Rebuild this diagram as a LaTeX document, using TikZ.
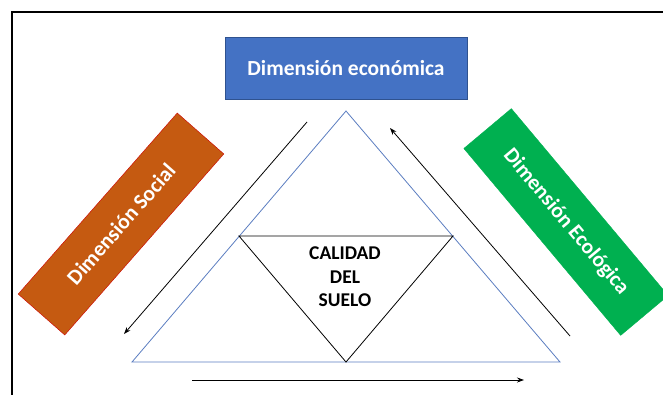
\documentclass[tikz,border=0pt]{standalone}
\usepackage{fontspec}
\setmainfont{Carlito}
\usetikzlibrary{arrows.meta}
\definecolor{econblue}{HTML}{4472C4}
\definecolor{econedge}{HTML}{2F528F}
\definecolor{socorange}{HTML}{C55A11}
\definecolor{ecogreen}{HTML}{00B050}
\definecolor{trisblue}{HTML}{5B7DC0}
\tikzset{
  dimbox/.style={minimum width=242pt, minimum height=62pt, inner sep=0pt,
    text=white, font=\bfseries\fontsize{21.5}{24}\selectfont},
  flow/.style={-{Stealth[length=7pt,width=5pt]}, line width=0.8pt}
}
\begin{document}
\begin{tikzpicture}[x=1pt,y=-1pt]
  \useasboundingbox (0,0) rectangle (663,394);
  \clip (0,0) rectangle (663,394);
  \draw[line width=1.5pt] (12,400) -- (12,12) -- (670,12);

  \node[dimbox, fill=econblue, draw=econedge] (econ) at (346,68) {Dimensión económica};
  \node[dimbox, fill=socorange, draw=red!80!black, rotate=48.7,
    minimum width=241pt] (social) at (121,224) {Dimensión Social};
  \node[dimbox, fill=ecogreen, draw=ecogreen, rotate=-50,
    minimum width=244pt] (eco) at (566,222) {Dimensión Ecológica};

  \coordinate (top) at (346,111);
  \coordinate (botleft) at (132,362);
  \coordinate (botright) at (560,362);
  \coordinate (midleft) at (239,236);
  \coordinate (midright) at (453,236);
  \coordinate (midbot) at (346,362);
  \draw[trisblue, line width=0.8pt] (top) -- (botleft) -- (botright) -- cycle;
  \draw[line width=0.8pt] (midleft) -- (midright) -- (midbot) -- cycle;
  \node[align=center, font=\bfseries\fontsize{19.5}{23.5}\selectfont] (suelo)
    at (345,277) {CALIDAD\\DEL\\SUELO};

  \coordinate (a1) at (307,122);
  \coordinate (a2) at (124,334);
  \coordinate (b1) at (570,336);
  \coordinate (b2) at (390,128);
  \coordinate (c1) at (192,380);
  \coordinate (c2) at (524,380);
  \draw[flow] (a1) -- (a2);
  \draw[flow] (b1) -- (b2);
  \draw[flow] (c1) -- (c2);
\end{tikzpicture}
\end{document}
